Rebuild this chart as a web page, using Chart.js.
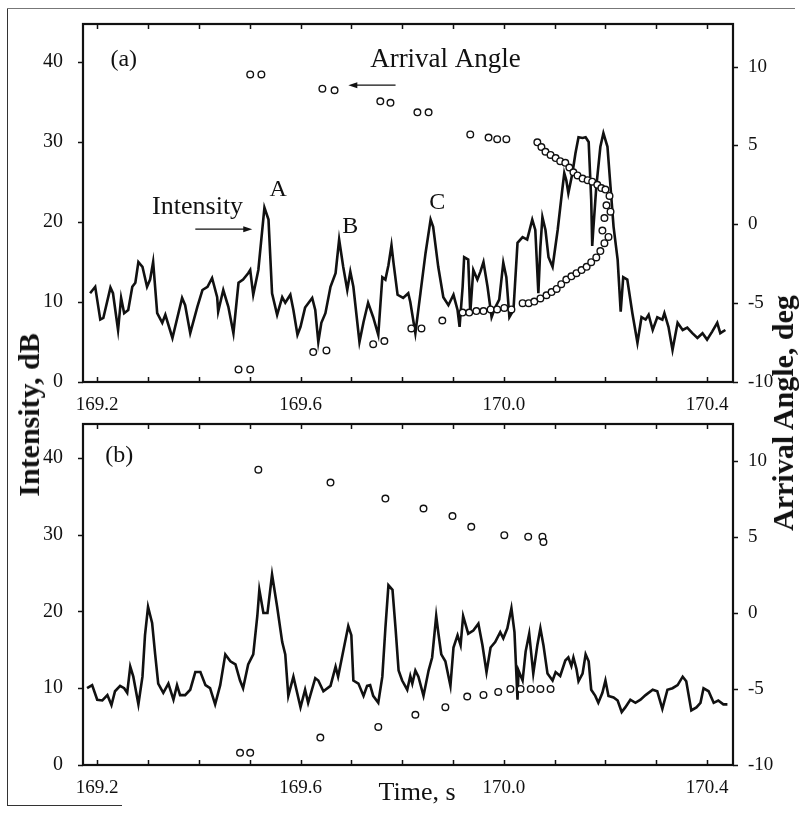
<!DOCTYPE html>
<html>
<head>
<meta charset="utf-8">
<script src="https://cdn.jsdelivr.net/npm/chart.js@4.4.0/dist/chart.umd.min.js"></script>
<style>
body{margin:0;background:#fff;width:800px;height:814px;position:relative;overflow:hidden}
canvas{position:absolute;left:0}
#chartA{top:0}
#chartB{top:400px}
.lab{position:absolute;font-family:'Liberation Serif',serif;color:#111;white-space:nowrap}
.rot{transform:translate(-50%,-50%) rotate(-90deg);font-weight:bold;font-size:30px}
.line{position:absolute;background:#333}
</style>
</head>
<body>
<div class="line" style="left:7px;top:8px;width:1px;height:798px"></div>
<div class="line" style="left:7px;top:8px;width:788px;height:1px;background:#777"></div>
<div class="line" style="left:7px;top:805px;width:115px;height:1px"></div>
<canvas id="chartA" width="800" height="410"></canvas>
<canvas id="chartB" width="800" height="414"></canvas>
<div class="lab rot" style="left:29px;top:415px">Intensity, dB</div>
<div class="lab rot" style="left:783px;top:413px">Arrival Angle, deg</div>
<div class="lab" style="left:417px;top:792px;transform:translate(-50%,-50%);font-size:26px">Time, s</div>
<script>
// panel (a): intensity trace
const timeA = [169.186,169.196,169.206,169.212,169.226,169.231,169.241,169.247,169.253,169.261,169.269,169.275,169.281,169.289,169.298,169.304,169.310,169.318,169.328,169.334,169.348,169.367,169.373,169.383,169.397,169.407,169.417,169.426,169.436,169.438,169.448,169.458,169.468,169.478,169.487,169.497,169.501,169.507,169.517,169.529,169.537,169.544,169.554,169.564,169.570,169.580,169.586,169.594,169.600,169.609,169.623,169.629,169.635,169.641,169.649,169.659,169.669,169.676,169.684,169.692,169.698,169.704,169.716,169.724,169.733,169.743,169.753,169.761,169.767,169.773,169.779,169.783,169.791,169.802,169.812,169.816,169.826,169.836,169.846,169.856,169.861,169.871,169.881,169.891,169.901,169.909,169.913,169.919,169.922,169.930,169.934,169.940,169.948,169.954,169.960,169.968,169.976,169.983,169.991,169.999,170.005,170.011,170.019,170.027,170.037,170.046,170.056,170.062,170.068,170.072,170.076,170.082,170.088,170.096,170.106,170.115,170.119,170.123,170.127,170.135,170.141,170.147,170.155,170.161,170.167,170.172,170.174,170.176,170.182,170.190,170.196,170.204,170.210,170.216,170.224,170.230,170.235,170.243,170.253,170.263,170.271,170.279,170.285,170.293,170.302,170.312,170.316,170.324,170.332,170.342,170.352,170.361,170.371,170.381,170.391,170.400,170.410,170.420,170.426,170.436]
const intensityA = [11.1,11.9,7.8,8.0,11.8,11.1,6.5,10.5,8.6,9.0,11.9,12.4,15.0,14.4,11.9,12.8,15.0,8.6,7.4,8.4,5.5,10.5,9.6,6.1,9.4,11.5,11.9,13.0,10.6,8.8,11.5,9.4,6.1,12.4,12.8,13.6,14.0,10.9,14.0,21.8,20.3,11.1,8.4,10.6,9.9,10.9,9.0,5.9,6.9,9.3,10.5,9.0,5.0,7.4,8.6,11.9,13.6,17.8,14.4,11.5,13.8,11.9,5.0,7.5,9.9,8.1,5.9,13.1,12.8,14.6,17.1,14.9,10.9,10.5,11.1,10.0,6.1,11.1,16.1,20.3,19.4,14.4,10.6,9.6,10.9,9.0,6.9,11.9,15.6,15.3,8.6,14.0,12.8,13.8,15.0,11.9,8.1,9.3,10.3,14.9,13.1,8.1,9.0,17.4,18.1,17.8,20.3,19.0,11.1,16.9,20.6,19.0,15.6,14.4,19.0,24.0,26.1,25.2,23.6,26.1,28.6,30.6,30.5,30.6,30.0,22.8,17.0,19.0,24.4,29.4,31.1,29.4,24.4,19.4,15.3,8.8,13.1,12.8,8.6,4.9,8.1,7.8,8.4,6.5,8.1,7.8,8.6,6.9,4.0,7.4,6.5,6.8,6.1,5.5,6.1,5.3,6.3,7.4,6.1,6.5]

// panel (a): arrival angle points
const angleTimeA = [169.501,169.523,169.643,169.667,169.757,169.777,169.830,169.852,169.934,169.970,169.987,170.005,170.066,170.074,170.082,170.092,170.102,170.111,170.121,170.129,170.137,170.145,170.155,170.165,170.174,170.184,170.192,170.200,170.208,170.202,170.210,170.198,
  169.478,169.501,169.625,169.651,169.743,169.765,169.818,169.838,169.879,169.919,169.932,169.946,169.960,169.974,169.987,170.001,170.015,170.037,170.049,170.060,170.072,170.084,170.094,170.104,170.113,170.123,170.133,170.143,170.153,170.163,170.172,170.182,170.190,170.198,170.206,170.194]
const angleA = [9.5,9.5,8.6,8.5,7.8,7.7,7.1,7.1,5.7,5.5,5.4,5.4,5.2,4.9,4.6,4.4,4.2,4.0,3.9,3.6,3.3,3.1,2.9,2.8,2.7,2.5,2.3,2.2,1.8,1.2,0.8,0.4,
  -9.2,-9.2,-8.1,-8.0,-7.6,-7.4,-6.6,-6.6,-6.1,-5.6,-5.6,-5.5,-5.5,-5.4,-5.4,-5.3,-5.4,-5.0,-5.0,-4.9,-4.7,-4.5,-4.3,-4.1,-3.8,-3.5,-3.3,-3.1,-2.9,-2.7,-2.4,-2.1,-1.7,-1.2,-0.8,-0.4]

// panel (b): intensity trace
const timeB = [169.180,169.190,169.200,169.210,169.220,169.228,169.235,169.245,169.253,169.259,169.265,169.271,169.281,169.289,169.294,169.300,169.308,169.314,169.320,169.330,169.340,169.350,169.357,169.363,169.373,169.383,169.393,169.403,169.413,169.422,169.432,169.442,169.452,169.462,169.472,169.481,169.487,169.497,169.507,169.515,169.519,169.527,169.535,169.544,169.554,169.564,169.570,169.576,169.586,169.600,169.609,169.615,169.629,169.635,169.645,169.659,169.669,169.674,169.684,169.694,169.700,169.704,169.714,169.724,169.731,169.737,169.743,169.753,169.761,169.767,169.773,169.781,169.787,169.793,169.800,169.810,169.816,169.820,169.826,169.832,169.842,169.852,169.859,169.867,169.871,169.877,169.885,169.895,169.901,169.909,169.915,169.920,169.930,169.940,169.950,169.958,169.966,169.974,169.983,169.993,169.999,170.007,170.015,170.021,170.027,170.029,170.037,170.043,170.050,170.058,170.066,170.072,170.078,170.086,170.096,170.102,170.111,170.121,170.127,170.133,170.137,170.143,170.147,170.155,170.161,170.167,170.172,170.180,170.186,170.194,170.200,170.206,170.216,170.224,170.232,170.239,170.249,170.259,170.269,170.279,170.293,170.302,170.312,170.322,170.332,170.342,170.352,170.359,170.369,170.379,170.387,170.393,170.403,170.413,170.422,170.432,170.440]
const intensityB = [10.0,10.4,8.5,8.4,9.1,7.8,9.6,10.3,10.0,9.4,12.8,11.5,7.9,11.5,16.9,20.6,18.5,14.4,10.6,9.4,10.6,8.5,10.4,9.1,9.1,9.8,12.1,12.1,10.4,10.0,7.9,10.4,14.4,13.5,13.1,11.0,10.0,13.1,14.4,19.4,22.8,19.8,19.8,24.8,20.6,16.0,14.4,9.0,11.5,7.5,9.8,8.1,11.3,11.0,9.6,10.3,12.8,11.5,14.8,18.1,16.9,11.0,10.6,9.0,10.3,10.4,9.0,8.1,11.5,17.8,23.4,22.8,17.8,12.3,11.0,9.8,11.6,10.6,12.3,11.5,9.0,12.3,14.0,19.4,17.3,14.4,13.5,10.3,15.3,16.9,15.6,19.4,17.1,17.5,18.4,15.6,12.1,15.3,16.0,17.3,16.5,17.8,20.4,17.3,8.5,12.3,11.0,14.8,17.1,11.9,15.6,17.8,15.6,11.9,11.0,12.1,11.6,13.6,14.0,12.9,14.0,12.5,10.9,11.9,14.4,13.5,9.8,9.0,8.1,9.4,11.0,9.0,8.8,8.4,6.9,7.5,8.5,8.1,8.5,9.1,9.8,9.6,7.3,9.8,10.0,10.4,11.5,10.9,7.1,7.5,8.1,10.0,9.6,8.1,8.4,7.9,7.9]

// panel (b): arrival angle points
const angleTimeB = [169.517,169.659,169.767,169.842,169.899,169.936,170.001,170.048,170.076,170.078,
  169.481,169.501,169.639,169.753,169.826,169.885,169.928,169.960,169.989,170.013,170.033,170.053,170.072,170.092]
const angleB = [9.4,8.55,7.5,6.85,6.35,5.65,5.1,5.0,5.0,4.65,
  -9.2,-9.2,-8.2,-7.5,-6.7,-6.2,-5.5,-5.4,-5.2,-5.0,-5.0,-5.0,-5.0,-5.0]

// axes
const xTickValues = [169.2,169.3,169.4,169.5,169.6,169.7,169.8,169.9,170.0,170.1,170.2,170.3,170.4]
const xTickLabels = ['169.2','','','','169.6','','','','170.0','','','','170.4']
const intensityTicks = [0,10,20,30,40]
const angleTicks = [-10,-5,0,5,10]

const serif = "'Liberation Serif', 'Times New Roman', serif"
const ink = '#111'

const toPts = (xs, ys) => xs.map((x, i) => ({x: x, y: ys[i]}))

// frame, inward time ticks, outward value ticks, notes and arrows
const framePlugin = {
    id: 'frame',
    afterDraw(chart, args, opts) {
        const ctx = chart.ctx
        const a = chart.chartArea
        const sx = chart.scales.x, sy = chart.scales.y, sy2 = chart.scales.y2
        ctx.save()
        ctx.strokeStyle = ink
        ctx.lineWidth = 1.5
        ctx.beginPath()
        for (const v of xTickValues) {
            const px = Math.round(sx.getPixelForValue(v)) + 0.5
            ctx.moveTo(px, a.bottom); ctx.lineTo(px, a.bottom - 5)
            ctx.moveTo(px, a.top); ctx.lineTo(px, a.top + 5)
        }
        for (const v of intensityTicks) {
            const py = Math.round(sy.getPixelForValue(v)) + 0.5
            ctx.moveTo(a.left - 5, py); ctx.lineTo(a.left, py)
        }
        for (const v of angleTicks) {
            const py = Math.round(sy2.getPixelForValue(v)) + 0.5
            ctx.moveTo(a.right, py); ctx.lineTo(a.right + 5, py)
        }
        ctx.stroke()
        ctx.lineWidth = 2.2
        ctx.strokeRect(a.left, a.top, a.right - a.left, a.bottom - a.top)

        ctx.fillStyle = ink
        ctx.textBaseline = 'middle'
        for (const n of (opts.texts || [])) {
            ctx.font = n.size + 'px ' + serif
            ctx.textAlign = n.align || 'center'
            ctx.fillText(n.s, sx.getPixelForValue(n.t), sy.getPixelForValue(n.v))
        }
        ctx.lineWidth = 1.3
        for (const ar of (opts.arrows || [])) {
            const x1 = sx.getPixelForValue(ar.from[0]), y1 = sy.getPixelForValue(ar.from[1])
            const x2 = sx.getPixelForValue(ar.to[0]), y2 = sy.getPixelForValue(ar.to[1])
            const dir = Math.sign(x2 - x1)
            ctx.beginPath()
            ctx.moveTo(x1, y1); ctx.lineTo(x2 - dir * 6, y2)
            ctx.stroke()
            ctx.beginPath()
            ctx.moveTo(x2, y2); ctx.lineTo(x2 - dir * 9, y2 - 3); ctx.lineTo(x2 - dir * 9, y2 + 3)
            ctx.closePath(); ctx.fill()
        }
        ctx.restore()
    }
}

const makeChart = (id, cfg) => new Chart(document.getElementById(id), {
    type: 'line',
    data: {
        datasets: [
            {type: 'scatter', data: toPts(cfg.angT, cfg.ang), yAxisID: 'y2', order: 1,
             pointRadius: 3.3, pointBorderWidth: 1.4, pointBorderColor: ink, pointBackgroundColor: '#fff', showLine: false},
            {type: 'line', data: toPts(cfg.t, cfg.i), yAxisID: 'y', order: 2,
             borderColor: ink, borderWidth: 2.6, pointRadius: 0, tension: 0, fill: false}
        ]
    },
    options: {
        responsive: false,
        animation: false,
        layout: {padding: {top: cfg.top, left: 0, right: 0, bottom: 0}},
        plugins: {legend: {display: false}, tooltip: {enabled: false}, frame: cfg.notes},
        scales: {
            x: {type: 'linear', min: 169.172, max: 170.451,
                afterBuildTicks: s => { s.ticks = xTickValues.map(v => ({value: v})) },
                afterFit: s => { s.height = cfg.xh },
                grid: {display: false}, border: {display: false},
                ticks: {autoSkip: false, maxRotation: 0, padding: 4, color: ink,
                        font: {family: serif, size: 19}, callback: (v, i) => xTickLabels[i]}},
            y: {position: 'left', min: 0, max: cfg.ymax,
                afterBuildTicks: s => { s.ticks = intensityTicks.map(v => ({value: v})) },
                afterFit: s => { s.width = 83 },
                grid: {display: false}, border: {display: false},
                ticks: {padding: 12, color: ink, font: {family: serif, size: 20}}},
            y2: {position: 'right', min: -10, max: cfg.y2max,
                afterBuildTicks: s => { s.ticks = angleTicks.map(v => ({value: v})) },
                afterFit: s => { s.width = 67 },
                grid: {display: false}, border: {display: false},
                ticks: {padding: 7, color: ink, font: {family: serif, size: 19}}}
        }
    },
    plugins: [framePlugin]
})

makeChart('chartA', {
    t: timeA, i: intensityA, angT: angleTimeA, ang: angleA,
    top: 24, xh: 28, ymax: 44.75, y2max: 12.7,
    notes: {
        texts: [
            {t: 169.226, v: 40.3, s: '(a)', align: 'left', size: 24},
            {t: 169.737, v: 40.3, s: 'Arrival Angle', align: 'left', size: 27},
            {t: 169.308, v: 21.9, s: 'Intensity', align: 'left', size: 26},
            {t: 169.556, v: 24.0, s: 'A', size: 24},
            {t: 169.698, v: 19.4, s: 'B', size: 24},
            {t: 169.869, v: 22.4, s: 'C', size: 24}
        ],
        arrows: [
            {from: [169.787, 37.1], to: [169.694, 37.1]},
            {from: [169.393, 19.1], to: [169.505, 19.1]}
        ]
    }
})

makeChart('chartB', {
    t: timeB, i: intensityB, angT: angleTimeB, ang: angleB,
    top: 10, xh: 49, ymax: 44.4, y2max: 12.4,
    notes: {
        texts: [{t: 169.216, v: 40.3, s: '(b)', align: 'left', size: 24}],
        arrows: []
    }
})
</script>
</body>
</html>
